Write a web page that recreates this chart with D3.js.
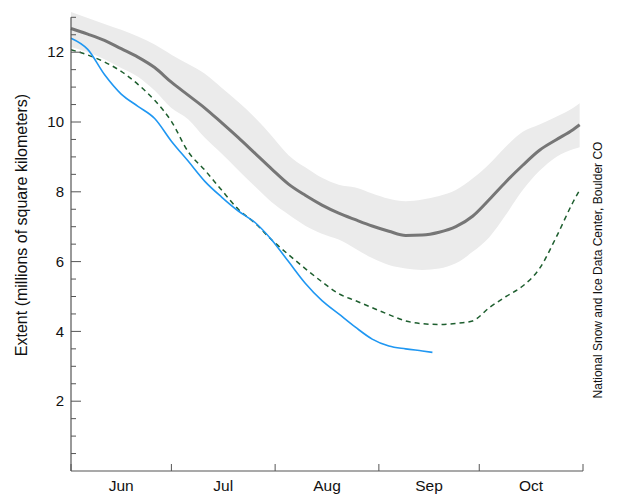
<!DOCTYPE html>
<html>
<head>
<meta charset="utf-8">
<script src="https://cdn.jsdelivr.net/npm/d3@7"></script>
<style>
  html, body { margin: 0; padding: 0; background: #fff; }
  svg text { font-family: "Liberation Sans", Arial, Helvetica, sans-serif; }
</style>
</head>
<body>
<svg id="chart" width="640" height="500"></svg>
<script>
// ---- data (millions of km^2) ----
const dates = ["06-01","06-06","06-11","06-16","06-21","06-26","07-01","07-06","07-11","07-16","07-21","07-26","07-31",
  "08-05","08-10","08-15","08-20","08-25","08-30","09-04","09-09","09-14","09-19","09-24","09-29",
  "10-04","10-09","10-14","10-19","10-24","10-29","10-31"];
const median = [12.68,12.52,12.34,12.10,11.86,11.56,11.14,10.77,10.40,9.98,9.55,9.10,8.65,
  8.22,7.90,7.62,7.39,7.20,7.02,6.87,6.75,6.76,6.84,7.00,7.30,
  7.78,8.29,8.76,9.19,9.49,9.78,9.92];
const bandUpper = [13.15,12.98,12.81,12.64,12.45,12.22,11.93,11.66,11.38,10.98,10.57,10.12,9.60,
  9.05,8.70,8.40,8.20,8.12,7.95,7.80,7.73,7.78,7.88,8.05,8.38,
  8.80,9.30,9.72,9.93,10.15,10.40,10.54];
const bandLower = [12.15,12.00,11.80,11.55,11.30,10.90,10.40,10.08,9.55,9.10,8.62,8.15,7.70,
  7.35,7.03,6.80,6.63,6.37,6.10,5.90,5.80,5.76,5.80,5.95,6.28,
  6.70,7.35,8.05,8.60,9.00,9.22,9.28];
const year2012 = [12.07,11.92,11.72,11.45,11.08,10.62,10.02,9.15,8.62,8.05,7.50,7.10,6.62,
  6.20,5.80,5.42,5.08,4.88,4.68,4.48,4.30,4.22,4.20,4.23,4.30,
  4.68,5.00,5.30,5.80,6.70,7.70,8.05];
const currentDates = ["06-01","06-06","06-11","06-16","06-21","06-26","07-01","07-06","07-11","07-16","07-21","07-26","07-31",
  "08-05","08-10","08-15","08-20","08-25","08-30","09-04","09-09","09-14","09-17"];
const current = [12.40,12.08,11.36,10.80,10.45,10.10,9.45,8.88,8.30,7.85,7.45,7.12,6.62,
  6.00,5.38,4.88,4.50,4.12,3.78,3.58,3.50,3.44,3.40];
const monthLabels = ["Jun","Jul","Aug","Sep","Oct"];
const yTickLabels = [2,4,6,8,10,12];
const yLabel = "Extent (millions of square kilometers)";
const credit = "National Snow and Ice Data Center, Boulder CO";

// ---- setup ----
const parse = d3.timeParse("%Y-%m-%d");
const P = s => parse("2019-" + s);
const svg = d3.select("#chart");
const mLeft = 71, mRight = 583, mBottom = 471;

const x = d3.scaleTime().domain([P("06-01"), P("11-01")]).range([mLeft, mRight]);
const y = d3.scaleLinear().domain([0, 13]).range([mBottom, mBottom - 13 * 34.9]);

const rows = dates.map((d, i) => ({ t: P(d), m: median[i], hi: bandUpper[i], lo: bandLower[i], g: year2012[i] }));
const cur = currentDates.map((d, i) => ({ t: P(d), v: current[i] }));

const curve = d3.curveMonotoneX;

// band
svg.append("path")
  .datum(rows)
  .attr("fill", "#ebebeb")
  .attr("d", d3.area().curve(curve).x(d => x(d.t)).y0(d => y(d.lo)).y1(d => y(d.hi)));

// median
svg.append("path")
  .datum(rows)
  .attr("fill", "none").attr("stroke", "#767676").attr("stroke-width", 3)
  .attr("d", d3.line().curve(curve).x(d => x(d.t)).y(d => y(d.m)));

// 2012 dashed
svg.append("path")
  .datum(rows)
  .attr("fill", "none").attr("stroke", "#1d5e2e").attr("stroke-width", 1.5)
  .attr("stroke-dasharray", "5,4")
  .attr("d", d3.line().curve(curve).x(d => x(d.t)).y(d => y(d.g)));

// current year
svg.append("path")
  .datum(cur)
  .attr("fill", "none").attr("stroke", "#1f97f2").attr("stroke-width", 1.6)
  .attr("d", d3.line().curve(curve).x(d => x(d.t)).y(d => y(d.v)));

// ---- axes ----
const axisColor = "#555";
const yAxis = svg.append("g");
yAxis.append("line").attr("x1", mLeft).attr("x2", mLeft).attr("y1", y(13)).attr("y2", y(0))
  .attr("stroke", axisColor).attr("stroke-width", 1.2);
d3.range(0.5, 13.01, 0.5).forEach(v => {
  const major = yTickLabels.includes(v);
  yAxis.append("line").attr("x1", mLeft).attr("x2", mLeft + (major ? 10 : 5))
    .attr("y1", y(v)).attr("y2", y(v)).attr("stroke", axisColor).attr("stroke-width", 1);
});
yAxis.selectAll("text.tick").data(yTickLabels).enter().append("text")
  .attr("x", mLeft - 7).attr("y", d => y(d)).attr("dy", "0.35em")
  .attr("text-anchor", "end").attr("font-size", 15).attr("fill", "#111")
  .text(d => d);

const xAxis = svg.append("g");
xAxis.append("line").attr("x1", mLeft).attr("x2", mRight).attr("y1", mBottom).attr("y2", mBottom)
  .attr("stroke", axisColor).attr("stroke-width", 1.2);
const monthStarts = d3.timeMonth.range(P("06-01"), P("11-02"));
monthStarts.forEach(m => {
  xAxis.append("line").attr("x1", x(m)).attr("x2", x(m)).attr("y1", mBottom).attr("y2", mBottom - 7)
    .attr("stroke", axisColor).attr("stroke-width", 1);
});
xAxis.selectAll("text").data(monthLabels).enter().append("text")
  .attr("x", (d, i) => (x(monthStarts[i]) + x(monthStarts[i + 1])) / 2)
  .attr("y", 491).attr("text-anchor", "middle").attr("font-size", 15.5).attr("fill", "#111")
  .text(d => d);

svg.append("text")
  .attr("transform", "translate(27,225) rotate(-90)")
  .attr("text-anchor", "middle").attr("font-size", 16).attr("fill", "#111")
  .text(yLabel);

svg.append("text")
  .attr("transform", "translate(602,270) rotate(-90)")
  .attr("text-anchor", "middle").attr("font-size", 12).attr("fill", "#111")
  .text(credit);
</script>
</body>
</html>
